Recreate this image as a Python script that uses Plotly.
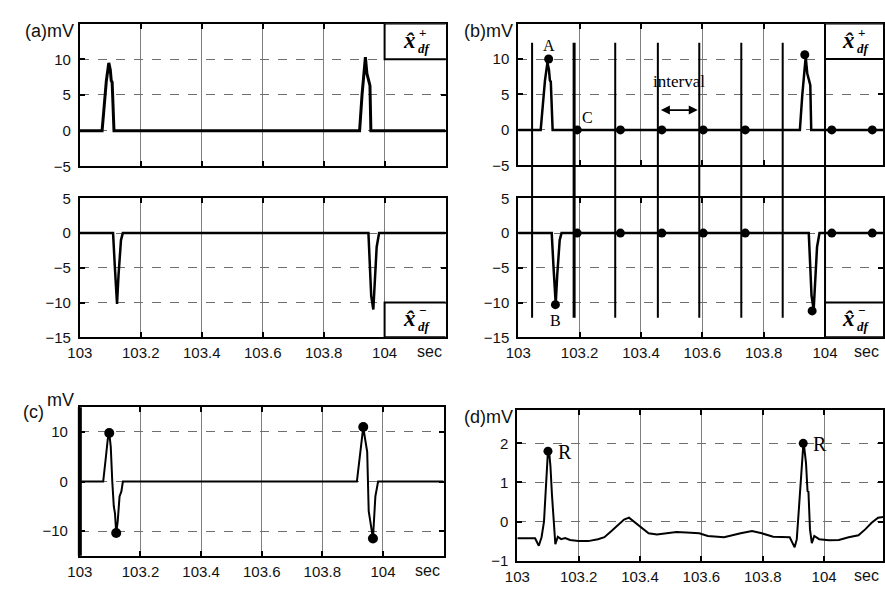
import plotly.graph_objects as go

W, H = 885, 591

# ---------------- data ----------------
x_ticks = [103, 103.2, 103.4, 103.6, 103.8, 104]
x_ticktext = ["103", "103.2", "103.4", "103.6", "103.8", "104"]

# positive component x_df^+  (panels a-top, b-top)
xp_t = [103.0, 103.073, 103.080, 103.087, 103.095, 103.100, 103.103, 103.106, 103.112,
        103.918, 103.926, 103.933, 103.937, 103.942, 103.949, 103.952, 103.955, 104.2]
xp_v = [0, 0, 3.5, 7.0, 9.5, 8.5, 7.0, 6.8, 0,
        0, 5.0, 9.0, 10.3, 8.0, 6.5, 6.3, 0, 0]

# negative component x_df^-  (panels a-bottom, b-bottom)
xm_t = [103.0, 103.109, 103.115, 103.122, 103.127, 103.132, 103.135, 103.141,
        103.947, 103.951, 103.956, 103.963, 103.967, 103.974, 103.982, 104.2]
xm_v = [0, 0, -5, -10.2, -6, -3, -1, 0,
        0, -4, -9, -11, -8, -2, 0, 0]

# panel b markers
b_peak_t = [103.099, 103.934]
b_peak_v = [10.0, 10.6]
b_trough_t = [103.121, 103.958]
b_trough_v = [-10.3, -11.2]
b_zero_t = [103.192, 103.333, 103.468, 103.603, 103.740, 104.022, 104.154]
b_zero_v = [0, 0, 0, 0, 0, 0, 0]
b_interval_t = [103.045, 103.182, 103.316, 103.455, 103.590, 103.727, 103.862]
b_boundary_t = 104.0

# panel c combined signal
c_t = [103.0, 103.077, 103.086, 103.092, 103.097, 103.102, 103.107, 103.112, 103.116,
       103.120, 103.125, 103.131, 103.137, 103.142,
       103.914, 103.922, 103.930, 103.935, 103.940, 103.948, 103.953, 103.960,
       103.967, 103.975, 103.980, 103.984, 104.2]
c_v = [0, 0, 5, 8.5, 9.8, 7, 0, -5, -6.5,
       -10.4, -8, -3, -2, 0,
       0, 4, 9, 11, 9, 6, -6, -9,
       -11.5, -3, -1, 0, 0]
c_peak_t = [103.097, 103.935]
c_peak_v = [9.8, 11.0]
c_trough_t = [103.120, 103.967]
c_trough_v = [-10.4, -11.5]

# panel d ECG
d_t = [103.0, 103.058, 103.070, 103.079, 103.087, 103.090, 103.095, 103.100, 103.103,
       103.108, 103.113, 103.119, 103.124, 103.132, 103.143, 103.156, 103.172, 103.199,
       103.231, 103.263, 103.284, 103.306, 103.327, 103.348, 103.364, 103.385, 103.407,
       103.428, 103.455, 103.487, 103.519, 103.551, 103.593, 103.621, 103.674, 103.728,
       103.765, 103.797, 103.834, 103.888, 103.904, 103.911, 103.920, 103.928, 103.933,
       103.941, 103.946, 103.949, 103.954, 103.960, 103.968, 103.984, 104.016, 104.048,
       104.080, 104.112, 104.134, 104.155, 104.176, 104.192]
d_v = [-0.43, -0.43, -0.62, -0.40, 0.0, 0.42, 1.18, 1.82, 1.85,
       1.42, 0.68, -0.15, -0.58, -0.39, -0.45, -0.42, -0.47, -0.50,
       -0.50, -0.45, -0.40, -0.25, -0.10, 0.05, 0.10, -0.03, -0.18,
       -0.30, -0.33, -0.30, -0.27, -0.28, -0.30, -0.37, -0.40, -0.30,
       -0.24, -0.30, -0.39, -0.40, -0.66, -0.45, 0.70, 1.60, 2.05,
       1.50, 0.78, 0.76, -0.20, -0.55, -0.37, -0.45, -0.48, -0.47,
       -0.40, -0.35, -0.20, -0.03, 0.10, 0.12]
d_r_t = [103.100, 103.932]
d_r_v = [1.80, 2.00]

# ---------------- layout helpers ----------------
def py(px):
    return 1 - px / H

def pxx(px):
    return px / W

dom = {
    1: ([pxx(68), pxx(440)], [py(162), py(15)], [103, 104.2], [-5, 15], [10, 5, 0, -5]),
    2: ([pxx(68), pxx(440)], [py(338), py(195)], [103, 104.2], [-15, 5], [5, 0, -5, -10, -15]),
    3: ([pxx(514), 1.0], [py(161), py(15)], [103, 104.189], [-5, 15], [10, 5, 0, -5]),
    4: ([pxx(514), 1.0], [py(338), py(195)], [103, 104.189], [-15, 5], [5, 0, -5, -10, -15]),
    5: ([pxx(68), pxx(438)], [py(563), py(410)], [103, 104.2], [-15, 15], [10, 0, -10]),
    6: ([pxx(513), 1.0], [py(568), py(413)], [103, 104.192], [-1, 2.85], [2, 1, 0, -1]),
}
show_xlabels = {1: False, 2: True, 3: False, 4: True, 5: True, 6: True}

tickfont = dict(family="Liberation Sans, Arial, sans-serif", size=15, color="#111")

fig = go.Figure()
layout = dict(width=W, height=H, margin=dict(l=0, r=0, t=0, b=0),
              paper_bgcolor="white", plot_bgcolor="white", showlegend=False)

for k, (xd, yd, xr, yr, yt) in dom.items():
    sfx = "" if k == 1 else str(k)
    layout["xaxis" + sfx] = dict(
        domain=xd, range=xr, anchor="y" + sfx, tickmode="array",
        tickvals=x_ticks, ticktext=x_ticktext, showticklabels=show_xlabels[k],
        ticks="inside", ticklen=5, tickwidth=1.5, tickcolor="black",
        showline=True, linewidth=2, linecolor="black", mirror="ticks",
        showgrid=True, gridcolor="#7f7f7f", gridwidth=1, zeroline=False,
        tickfont=tickfont, ticklabelstandoff=1, fixedrange=True)
    layout["yaxis" + sfx] = dict(
        domain=yd, range=yr, anchor="x" + sfx, tickmode="array", tickvals=yt,
        ticks="inside", ticklen=5, tickwidth=1.5, tickcolor="black",
        showline=True, linewidth=2, linecolor="black", mirror="ticks",
        showgrid=True, gridcolor="#6f6f6f", gridwidth=1, griddash="dash",
        zeroline=False, tickfont=tickfont, ticklabelstandoff=7 if k == 5 else 4,
        fixedrange=True)
fig.update_layout(**layout)

def axn(k):
    return ("x" if k == 1 else "x%d" % k), ("y" if k == 1 else "y%d" % k)

def line(k, t, v, w):
    xa, ya = axn(k)
    fig.add_trace(go.Scatter(x=t, y=v, mode="lines", line=dict(color="black", width=w),
                             xaxis=xa, yaxis=ya, hoverinfo="skip"))

def dots(k, t, v, size=9):
    xa, ya = axn(k)
    fig.add_trace(go.Scatter(x=t, y=v, mode="markers",
                             marker=dict(color="black", size=size),
                             xaxis=xa, yaxis=ya, hoverinfo="skip", cliponaxis=False))

def to_paper(k, v):
    yd, yr = dom[k][1], dom[k][3]
    return yd[0] + (v - yr[0]) / (yr[1] - yr[0]) * (yd[1] - yd[0])

# panel a
line(1, xp_t, xp_v, 3)
line(2, xm_t, xm_v, 2.5)
# panel b
line(3, xp_t, xp_v, 2.5)
line(4, xm_t, xm_v, 2.5)
dots(3, b_zero_t, b_zero_v)
dots(4, b_zero_t, b_zero_v)
dots(3, b_peak_t, b_peak_v)
dots(4, b_trough_t, b_trough_v)
# panel c
line(5, c_t, c_v, 2)
dots(5, c_peak_t, c_peak_v, 10)
dots(5, c_trough_t, c_trough_v, 10)
# panel d
line(6, d_t, d_v, 2)
dots(6, d_r_t, d_r_v, 9)

shapes = []
# interval boundary lines in panel b (span both sub-panels)
for i, t in enumerate(b_interval_t):
    shapes.append(dict(type="line", xref="x3", yref="paper", x0=t, x1=t,
                       y0=to_paper(4, -12.2), y1=to_paper(3, 12.3),
                       line=dict(color="black", width=3 if i == 1 else 2)))
shapes.append(dict(type="line", xref="x3", yref="paper", x0=b_boundary_t, x1=b_boundary_t,
                   y0=to_paper(4, -15), y1=to_paper(3, 10),
                   line=dict(color="black", width=2)))
# legend boxes
for k, (y0, y1) in {1: (10, 15), 2: (-15, -10), 3: (10, 15), 4: (-15, -10)}.items():
    xa, ya = axn(k)
    shapes.append(dict(type="rect", xref=xa, yref=ya, x0=104.0, x1=dom[k][2][1] + 0.01,
                       y0=y0, y1=y1, line=dict(color="black", width=2),
                       fillcolor="white", layer="above"))
# thick left edge of panel c
shapes.append(dict(type="line", xref="x5 domain", yref="y5 domain", x0=0, x1=0, y0=0, y1=1,
                   line=dict(color="black", width=4)))
fig.update_layout(shapes=shapes)

serif = "Liberation Serif, Times New Roman, serif"
ann = []
# legend texts
for k, sign, yc in [(1, "+", 12.5), (2, "\u2212", -12.5), (3, "+", 12.5), (4, "\u2212", -12.5)]:
    xa, ya = axn(k)
    xc = 104.0 + (dom[k][2][1] - 104.0) / 2
    ann.append(dict(x=xc, y=yc, xref=xa, yref=ya, text="<b><i>x\u0302</i></b>", showarrow=False,
                    font=dict(family=serif, size=23, color="black"), xshift=-6, yshift=1))
    ann.append(dict(x=xc, y=yc, xref=xa, yref=ya, text="<b>%s</b>" % sign, showarrow=False,
                    font=dict(family=serif, size=13, color="black"), xshift=7, yshift=9))
    ann.append(dict(x=xc, y=yc, xref=xa, yref=ya, text="<b><i>df</i></b>", showarrow=False,
                    font=dict(family=serif, size=13, color="black"), xshift=9, yshift=-7))

# "sec" labels
for k in (2, 4, 5, 6):
    xa, ya = axn(k)
    ann.append(dict(x=1, y=0, xref=xa + " domain", yref=ya + " domain", text="sec",
                    showarrow=False, xanchor="right", yanchor="top", xshift=-2, yshift=-4,
                    font=dict(family="Liberation Sans, Arial, sans-serif", size=16, color="#111")))

lab = dict(family="Liberation Sans, Arial, sans-serif", size=18, color="#111")
ann.append(dict(x=pxx(64), y=py(23), xref="paper", yref="paper", text="(a)mV", showarrow=False,
                xanchor="right", yanchor="middle", font=lab))
ann.append(dict(x=pxx(511), y=py(23), xref="paper", yref="paper", text="(b)mV", showarrow=False,
                xanchor="right", yanchor="middle", font=lab))
ann.append(dict(x=pxx(34), y=py(415), xref="paper", yref="paper", text="(c)", showarrow=False,
                xanchor="right", yanchor="middle", font=lab))
ann.append(dict(x=pxx(64), y=py(403), xref="paper", yref="paper", text="mV", showarrow=False,
                xanchor="right", yanchor="middle", font=lab))
ann.append(dict(x=pxx(511), y=py(420), xref="paper", yref="paper", text="(d)mV", showarrow=False,
                xanchor="right", yanchor="middle", font=lab))

# point labels
sf = dict(family=serif, size=16, color="black")
ann.append(dict(x=b_peak_t[0], y=b_peak_v[0], xref="x3", yref="y3", text="A", showarrow=False,
                yanchor="bottom", yshift=3, font=sf))
ann.append(dict(x=b_zero_t[0], y=0, xref="x3", yref="y3", text="C", showarrow=False,
                xanchor="left", yanchor="bottom", xshift=3, yshift=2, font=sf))
ann.append(dict(x=b_trough_t[0], y=b_trough_v[0], xref="x4", yref="y4", text="B", showarrow=False,
                yanchor="top", yshift=-5, font=sf))
ann.append(dict(x=(b_interval_t[3] + b_interval_t[4]) / 2, y=6.8, xref="x3", yref="y3",
                text="interval", showarrow=False, font=dict(family=serif, size=17, color="black")))
ann.append(dict(x=b_interval_t[4] - 0.005, y=2.8, ax=b_interval_t[3] + 0.005, ay=2.8,
                xref="x3", yref="y3", axref="x3", ayref="y3", text="", showarrow=True,
                arrowhead=2, arrowside="end+start", arrowsize=1, arrowwidth=1.8,
                arrowcolor="black"))
for t, v in zip(d_r_t, d_r_v):
    ann.append(dict(x=t, y=v, xref="x6", yref="y6", text="R", showarrow=False,
                    xanchor="left", yanchor="middle", xshift=8, yshift=-1,
                    font=dict(family=serif, size=20, color="black")))
fig.update_layout(annotations=ann)

fig.write_html("out.html", config={"displayModeBar": False},
               post_script="document.body.style.margin='0px';document.body.style.overflow='hidden';")
